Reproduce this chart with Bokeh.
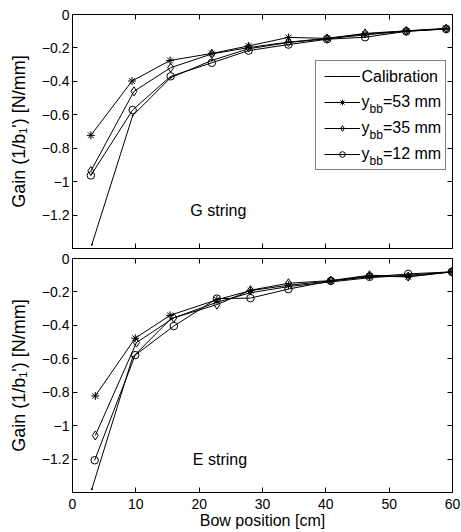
from bokeh.plotting import figure
from bokeh.models import Range1d, LinearAxis, FixedTicker, Label, Legend, LegendItem
from bokeh.layouts import column
from bokeh.embed import file_html
from bokeh.resources import INLINE

FONT = "Liberation Sans"

# ---------------- data ----------------
x_ticks = [0, 10, 20, 30, 40, 50, 60]
x_tick_labels = ["0", "10", "20", "30", "40", "50", "60"]
y_ticks = [0, -0.2, -0.4, -0.6, -0.8, -1.0, -1.2]
y_tick_labels = ["0", "\u22120.2", "\u22120.4", "\u22120.6", "\u22120.8", "\u22121", "\u22121.2"]

x_title = "Bow position [cm]"
y_title = "Gain (1/b\u2081') [N/mm]"

legend_main = ["Calibration", "y", "y", "y"]
legend_sub = ["", "bb", "bb", "bb"]
legend_rest = ["", "=53 mm", "=35 mm", "=12 mm"]

# G string
g_x_cal = [3.05, 9.5, 15.5, 22.0, 27.8, 34.1, 40.2, 46.2, 52.7, 59.0]
g_y_cal = [-1.378, -0.605, -0.378, -0.275, -0.205, -0.168, -0.145, -0.122, -0.100, -0.086]
g_x_53 = [2.9, 9.4, 15.4, 22.0, 27.8, 34.1, 40.2, 46.2, 52.7, 59.0]
g_y_53 = [-0.723, -0.398, -0.275, -0.233, -0.188, -0.137, -0.143, -0.117, -0.098, -0.083]
g_x_35 = [2.9, 9.7, 15.5, 22.0, 27.8, 34.1, 40.2, 46.2, 52.7, 59.0]
g_y_35 = [-0.936, -0.460, -0.318, -0.236, -0.198, -0.165, -0.143, -0.113, -0.098, -0.085]
g_x_12 = [2.9, 9.5, 15.5, 22.0, 27.8, 34.1, 40.2, 46.2, 52.7, 59.0]
g_y_12 = [-0.963, -0.571, -0.370, -0.289, -0.216, -0.180, -0.148, -0.136, -0.101, -0.087]

# E string
e_x_cal = [3.05, 9.5, 15.5, 22.8, 28.1, 34.1, 40.8, 46.9, 53.0, 59.9]
e_y_cal = [-1.380, -0.590, -0.362, -0.262, -0.205, -0.168, -0.140, -0.115, -0.100, -0.080]
e_x_53 = [3.6, 9.9, 15.4, 22.8, 28.1, 34.1, 40.8, 46.9, 53.0, 59.9]
e_y_53 = [-0.822, -0.477, -0.340, -0.247, -0.192, -0.160, -0.134, -0.105, -0.110, -0.080]
e_x_35 = [3.6, 10.1, 16.0, 22.8, 28.1, 34.1, 40.8, 46.9, 53.0, 59.9]
e_y_35 = [-1.059, -0.503, -0.355, -0.276, -0.190, -0.148, -0.132, -0.100, -0.108, -0.080]
e_x_12 = [3.5, 9.9, 16.0, 22.8, 28.1, 34.1, 40.8, 46.9, 53.0, 59.9]
e_y_12 = [-1.207, -0.578, -0.404, -0.240, -0.237, -0.183, -0.134, -0.110, -0.092, -0.080]

markers = ["dot", "asterisk", "diamond", "circle"]
marker_sizes = [8, 8, 9, 7.5]

X0, X1, Y0, Y1 = 0, 60, -1.4, 0
FRAME_W = 380
FRAME_H = 234


def sx(px):
    """frame pixel offset (from left) -> data x"""
    return X0 + px * (X1 - X0) / FRAME_W


def sy(py):
    """frame pixel offset (from bottom) -> data y"""
    return Y0 + py * (Y1 - Y0) / FRAME_H


def make_axis(ticks, labels, show):
    ax = LinearAxis(ticker=FixedTicker(ticks=ticks),
                    major_label_overrides=dict(zip(ticks, labels if show else [""] * len(ticks))))
    ax.axis_line_color = "black"
    ax.axis_line_width = 1
    ax.major_tick_line_color = "black"
    ax.major_tick_in = 5
    ax.major_tick_out = 0
    ax.minor_tick_line_color = None
    ax.major_label_text_font = FONT
    ax.major_label_text_color = "black"
    if show:
        ax.major_label_text_font_size = "14px"
        ax.major_label_standoff = 3
    else:
        ax.major_label_text_font_size = "0px"
        ax.major_label_standoff = 0
    return ax


def make_panel(height, b_top, b_bottom, show_x, xs_list, ys_list, name, name_x, name_y):
    p = figure(width=461, height=height, x_range=Range1d(X0, X1), y_range=Range1d(Y0, Y1),
               x_axis_type=None, y_axis_type=None, output_backend="svg", toolbar_location=None,
               min_border_left=72, min_border_right=461 - 72 - FRAME_W,
               min_border_top=b_top, min_border_bottom=b_bottom)
    p.outline_line_color = "black"
    p.outline_line_width = 1
    p.background_fill_color = "white"
    p.border_fill_color = "white"

    left = make_axis(y_ticks, y_tick_labels, True)
    left.axis_label = y_title
    left.axis_label_text_font = FONT
    left.axis_label_text_font_size = "18px"
    left.axis_label_text_font_style = "normal"
    left.axis_label_text_color = "black"
    left.axis_label_standoff = 10
    p.add_layout(left, "left")
    p.add_layout(make_axis(y_ticks, y_tick_labels, False), "right")
    p.add_layout(make_axis(x_ticks, x_tick_labels, False), "above")
    bottom_axis = make_axis(x_ticks, x_tick_labels, show_x)
    if show_x:
        bottom_axis.major_label_standoff = 6
        bottom_axis.axis_label = x_title
        bottom_axis.axis_label_text_font = FONT
        bottom_axis.axis_label_text_font_size = "16px"
        bottom_axis.axis_label_text_font_style = "normal"
        bottom_axis.axis_label_text_color = "black"
        bottom_axis.axis_label_standoff = 0
    p.add_layout(bottom_axis, "below")

    items = []
    for i, (xs, ys) in enumerate(zip(xs_list, ys_list)):
        lr = p.line(xs, ys, line_color="black", line_width=1)
        sr = p.scatter(xs, ys, marker=markers[i], size=marker_sizes[i],
                       line_color="black", fill_color=None, line_width=1)
        items.append(LegendItem(label=" ", renderers=[lr, sr]))

    p.add_layout(Label(x=name_x, y=name_y, text=name, text_font=FONT, text_font_size="16px",
                       text_color="black", text_baseline="middle"))
    return p, items


TOP_H = 14 + FRAME_H + 1
BOT_TOP = 9
top, items = make_panel(TOP_H, 14, 1, False,
                        [g_x_cal, g_x_53, g_x_35, g_x_12], [g_y_cal, g_y_53, g_y_35, g_y_12],
                        "G string", 18.6, -1.17)
bottom, _ = make_panel(532 - TOP_H, BOT_TOP, 532 - TOP_H - BOT_TOP - FRAME_H, True,
                       [e_x_cal, e_x_53, e_x_35, e_x_12], [e_y_cal, e_y_53, e_y_35, e_y_12],
                       "E string", 19.0, -1.2)

# legend: box + samples from Bokeh; texts as separate labels (for the subscripts)
pad, gw, gh, sp, lw, stand = 8, 36, 14, 12, 75, 2
leg_x, leg_y = 243, 78
legend = Legend(items=items, location=(leg_x, leg_y), glyph_width=gw, glyph_height=gh,
                label_height=gh, label_width=lw, label_standoff=stand, spacing=sp, padding=pad,
                margin=0, border_line_color="black", border_line_width=1,
                background_fill_color="white", background_fill_alpha=0.0,
                label_text_font_size="10px")
top.add_layout(legend)

leg_top = leg_y + 2 * pad + 4 * gh + 3 * sp
tx = leg_x + pad + gw + stand
lab = dict(text_font=FONT, text_color="black", level="overlay")
for i in range(4):
    yc = leg_top - pad - i * (gh + sp) - gh / 2
    if legend_sub[i] == "":
        top.add_layout(Label(x=sx(tx), y=sy(yc + 1), text=legend_main[i], text_font_size="16px",
                             text_baseline="middle", **lab))
    else:
        top.add_layout(Label(x=sx(tx), y=sy(yc + 2), text=legend_main[i], text_font_size="16px",
                             text_baseline="alphabetic", **lab))
        top.add_layout(Label(x=sx(tx + 8), y=sy(yc - 5), text=legend_sub[i], text_font_size="12px",
                             text_baseline="alphabetic", **lab))
        top.add_layout(Label(x=sx(tx + 8 + 13.4), y=sy(yc + 2), text=legend_rest[i],
                             text_font_size="16px", text_baseline="alphabetic", **lab))

layout = column(top, bottom)
open("out.html", "w").write(file_html(layout, INLINE, title="Gain vs bow position"))
